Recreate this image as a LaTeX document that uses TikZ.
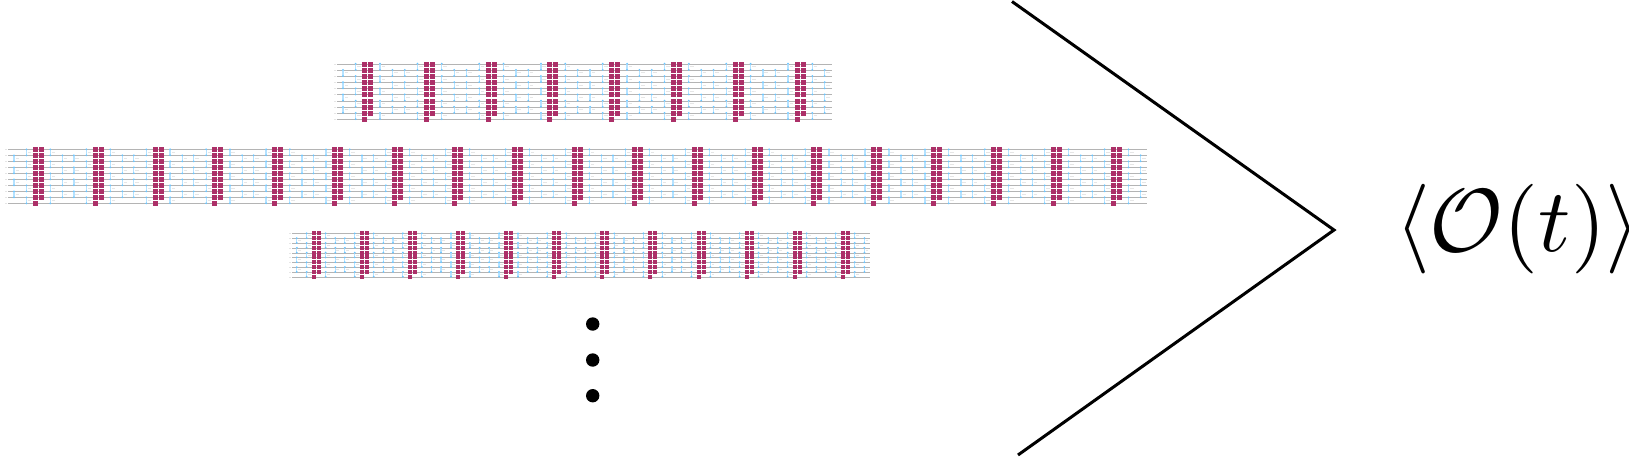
\documentclass[tikz,border=0pt]{standalone}
\usepackage{amsmath}
\usepackage{amssymb}
\usetikzlibrary{calc}
\definecolor{gatecol}{HTML}{AC3068}
\definecolor{cxcol}{HTML}{B5E2FF}
\definecolor{ctrlcol}{HTML}{6CC6FF}
\definecolor{wirecol}{HTML}{B4B4B4}
\definecolor{tagcol}{HTML}{E6E6E6}
\tikzset{
	wire/.style={wirecol,line width=0.45pt},
	cxline/.style={cxcol,line width=0.6pt},
	ctrldot/.style={fill=ctrlcol},
	gatebox/.style={fill=gatecol},
	tagbox/.style={fill=tagcol},
	dotmark/.style={circle,fill=black,inner sep=0pt,minimum size=6.7pt},
	armline/.style={black,line width=1.5pt}
}
% #1 first pair, #2 period, #3 last pair, #4 top wire, #5 wire gap, #6 wire start, #7 wire end, #8 size, #9 gate px
\newcommand{\qcircuit}[9]{
	\foreach \w in {0,...,9} {
		\draw[wire] (#6,{round(#4+\w*#5)+0.5}) -- (#7,{round(#4+\w*#5)+0.5});
		\fill[tagbox] (#6-3.2,{round(#4+\w*#5)-0.3}) rectangle ++(2.2,1.6);
	}
	\foreach \i in {0,...,#3} {
		\foreach \off/\rows in {-21.7/{1,3,5,7},-9/{0,2,4,6,8},15.3/{0,2,4,6,8},27.7/{1,3,5,7}} {
			\foreach \k in \rows {
				\draw[cxline] ({#1+\i*#2+\off*#8},{#4+\k*#5}) -- ({#1+\i*#2+\off*#8},{#4+(\k+1)*#5});
				\fill[ctrldot] ({#1+\i*#2+\off*#8},{#4+\k*#5}) circle (1);
				\fill[ctrldot] ({#1+\i*#2+\off*#8},{#4+(\k+1)*#5}) circle (1);
				\fill[tagbox] ({#1+\i*#2+(\off+1.5)*#8},{#4+(\k+0.5)*#5-0.5}) rectangle ++({3.6*#8},1);
			}
		}
		\foreach \k in {0,...,9} {
			\fill[gatebox] ({round(#1+\i*#2-#9/2)+0.1},{round(#4+\k*#5)-1.9}) rectangle ++(#9-0.2,#9-0.2);
		}
		\foreach \k in {0,...,8} {
			\fill[gatebox] ({round(#1+\i*#2-#9/2)+#9+1.1},{round(#4+\k*#5)-1.9}) rectangle ++(#9-0.2,#9-0.2);
		}
	}
}
\begin{document}
\begin{tikzpicture}[x=0.5pt,y=-0.5pt]
	\useasboundingbox (0,0) rectangle (1629,457);
	
	\qcircuit{364.7}{61.76}{7}{63.7}{6.15}{336.7}{831.7}{1}{5}
	\qcircuit{35.3}{59.9}{18}{149.3}{6}{8}{1147}{0.98}{5}
	\qcircuit{313.7}{48.1}{11}{233.3}{4.82}{292}{870}{0.78}{4}
	
	\node[dotmark] (d1) at (592.7,324) {};
	\node[dotmark] (d2) at (592.7,360) {};
	\node[dotmark] (d3) at (592.7,395.7) {};
	
	\coordinate (a1) at (1012,1.5);
	\coordinate (a2) at (1334,230);
	\coordinate (a3) at (1018,455);
	\draw[armline] (a1) -- (a2) -- (a3);
	
	\node[scale=4.48,inner sep=0pt] (obs) at (1510.5,229) {$\langle\mathcal{O}(t)\rangle\!$};
\end{tikzpicture}
\end{document}
